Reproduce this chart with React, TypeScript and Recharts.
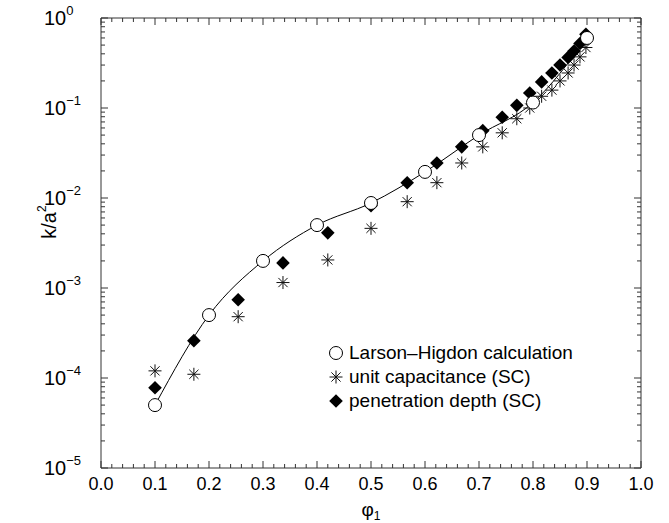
import React from "react";
import { ComposedChart, Line, Scatter, XAxis, YAxis, Legend } from "recharts";

// Larson-Higdon calculation (open circles joined by a line)
const lhPhi = [0.1, 0.2, 0.3, 0.4, 0.5, 0.6, 0.7, 0.8, 0.9];
const lhK = [5e-5, 5e-4, 2e-3, 5e-3, 8.8e-3, 1.95e-2, 5e-2, 0.115, 0.6];

// self-consistent (SC) results share the same phi values
const scPhi = [
  0.1, 0.172, 0.254, 0.337, 0.42, 0.5, 0.567, 0.622, 0.668, 0.707,
  0.743, 0.77, 0.794, 0.816, 0.835, 0.85, 0.865, 0.876, 0.887, 0.898,
];
const capK = [
  1.2e-4, 1.1e-4, 4.8e-4, 1.15e-3, 2.05e-3, 4.6e-3, 9.1e-3, 1.48e-2, 2.45e-2, 3.7e-2,
  5.3e-2, 7.6e-2, 0.1, 0.135, 0.158, 0.2, 0.245, 0.3, 0.37, 0.47,
];
const depthK = [
  7.8e-5, 2.6e-4, 7.4e-4, 1.9e-3, 4.1e-3, 8.2e-3, 1.48e-2, 2.45e-2, 3.7e-2, 5.6e-2,
  7.9e-2, 0.107, 0.147, 0.195, 0.245, 0.3, 0.365, 0.43, 0.52, 0.66,
];

const xMajorTicks = [0, 0.1, 0.2, 0.3, 0.4, 0.5, 0.6, 0.7, 0.8, 0.9, 1.0];
const xTickLabels = ["0.0", "0.1", "0.2", "0.3", "0.4", "0.5", "0.6", "0.7", "0.8", "0.9", "1.0"];
const yMajorTicks = [1e-5, 1e-4, 1e-3, 1e-2, 1e-1, 1];
const yTickExponents = ["\u22125", "\u22124", "\u22123", "\u22122", "\u22121", "0"];

const xMinorTicks = xMajorTicks.slice(0, -1).flatMap((t) => [1, 2, 3, 4].map((k) => +(t + k * 0.02).toFixed(2)));
const yMinorTicks = yMajorTicks.slice(0, -1).flatMap((d) => [2, 3, 4, 5, 6, 7, 8, 9].map((m) => d * m));
const xTicks = [...xMajorTicks, ...xMinorTicks].sort((a, b) => a - b);
const yTicks = [...yMajorTicks, ...yMinorTicks].sort((a, b) => a - b);

const lhData = lhPhi.map((x, i) => ({ x, y: lhK[i] }));
const capData = scPhi.map((x, i) => ({ x, y: capK[i] }));
const depthData = scPhi.map((x, i) => ({ x, y: depthK[i] }));

const FONT = "'Liberation Sans', Arial, Helvetica, sans-serif";
const AXIS = "#333";
const MAJOR = 7;
const MINOR = 4;

const xMajorIndex = (v: number) => xMajorTicks.findIndex((t) => Math.abs(t - v) < 1e-6);
const yMajorIndex = (v: number) => yMajorTicks.findIndex((t) => Math.abs(Math.log10(t) - Math.log10(v)) < 1e-6);

const BottomTick = ({ x, y, payload }: any) => {
  const i = xMajorIndex(payload.value);
  return (
    <g>
      <line x1={x} x2={x} y1={y} y2={y - (i >= 0 ? MAJOR : MINOR)} stroke={AXIS} />
      {i >= 0 && (
        <text x={x} y={y + 22} textAnchor="middle" fontSize={18} fontFamily={FONT} fill="#000">
          {xTickLabels[i]}
        </text>
      )}
    </g>
  );
};

const TopTick = ({ x, y, payload }: any) => {
  const i = xMajorIndex(payload.value);
  return <line x1={x} x2={x} y1={y} y2={y + (i >= 0 ? MAJOR : MINOR)} stroke={AXIS} />;
};

const LeftTick = ({ x, y, payload }: any) => {
  const i = yMajorIndex(payload.value);
  return (
    <g>
      <line x1={x} x2={x + (i >= 0 ? MAJOR : MINOR)} y1={y} y2={y} stroke={AXIS} />
      {i >= 0 && (
        <text x={x - 57} y={y + 7} textAnchor="start" fontFamily={FONT} fill="#000">
          <tspan fontSize={20}>10</tspan>
          <tspan fontSize={13} dy={-10}>{yTickExponents[i]}</tspan>
        </text>
      )}
    </g>
  );
};

const RightTick = ({ x, y, payload }: any) => {
  const i = yMajorIndex(payload.value);
  return <line x1={x} x2={x - (i >= 0 ? MAJOR : MINOR)} y1={y} y2={y} stroke={AXIS} />;
};

const XLabel = ({ viewBox }: any) => (
  <text x={viewBox.x + viewBox.width / 2} y={viewBox.y + 48} textAnchor="middle" fontFamily={FONT} fill="#000">
    <tspan fontSize={19}>φ</tspan>
    <tspan fontSize={12} dy={4}>1</tspan>
  </text>
);

const YLabel = () => (
  <text x={56} y={222} transform="rotate(-90, 56, 222)" textAnchor="middle" fontFamily={FONT} fill="#000">
    <tspan fontSize={20}>k/a</tspan>
    <tspan fontSize={12} dy={-10}>2</tspan>
  </text>
);

const OpenCircle = ({ cx, cy }: any) =>
  cx == null ? null : <circle cx={cx} cy={cy} r={6.5} fill="#fff" stroke="#000" strokeWidth={1} />;

const Star = ({ cx, cy }: any) => {
  const s = 6.5;
  const d = 4.6;
  return (
    <g stroke="#111" strokeWidth={1}>
      <line x1={cx - s} x2={cx + s} y1={cy} y2={cy} />
      <line x1={cx} x2={cx} y1={cy - s} y2={cy + s} />
      <line x1={cx - d} x2={cx + d} y1={cy - d} y2={cy + d} />
      <line x1={cx - d} x2={cx + d} y1={cy + d} y2={cy - d} />
    </g>
  );
};

const Diamond = ({ cx, cy }: any) => {
  const s = 6.8;
  return <polygon points={`${cx},${cy - s} ${cx + s},${cy} ${cx},${cy + s} ${cx - s},${cy}`} fill="#000" />;
};

const legendRows = [
  { label: "Larson\u2013Higdon calculation", icon: <OpenCircle cx={8} cy={12} /> },
  { label: "unit capacitance (SC)", icon: <Star cx={8} cy={12} /> },
  { label: "penetration depth (SC)", icon: <Diamond cx={8} cy={12} /> },
];

const LegendBox = () => (
  <div style={{ fontFamily: FONT, fontSize: 19, color: "#000" }}>
    {legendRows.map((r) => (
      <div key={r.label} style={{ display: "flex", alignItems: "center", height: 24 }}>
        <svg width={16} height={24} style={{ marginRight: 5 }}>
          {r.icon}
        </svg>
        <span>{r.label}</span>
      </div>
    ))}
  </div>
);

export default function App() {
  return (
    <div style={{ position: "absolute", left: 0, top: 0, background: "#fff" }}>
      <ComposedChart width={669} height={523} margin={{ top: 0, right: 0, bottom: 0, left: 0 }}>
        <XAxis
          type="number"
          dataKey="x"
          domain={[0, 1]}
          allowDataOverflow
          ticks={xTicks}
          interval={0}
          tickLine={false}
          tickSize={0}
          tickMargin={0}
          height={55}
          axisLine={{ stroke: AXIS }}
          tick={<BottomTick />}
          label={<XLabel />}
        />
        <XAxis
          xAxisId="top"
          orientation="top"
          type="number"
          dataKey="x"
          domain={[0, 1]}
          allowDataOverflow
          ticks={xTicks}
          interval={0}
          tickLine={false}
          tickSize={0}
          tickMargin={0}
          height={18}
          axisLine={{ stroke: AXIS }}
          tick={<TopTick />}
        />
        <YAxis
          type="number"
          dataKey="y"
          scale="log"
          domain={[1e-5, 1]}
          allowDataOverflow
          ticks={yTicks}
          interval={0}
          tickLine={false}
          tickSize={0}
          tickMargin={0}
          width={101}
          axisLine={{ stroke: AXIS }}
          tick={<LeftTick />}
          label={<YLabel />}
        />
        <YAxis
          yAxisId="right"
          orientation="right"
          type="number"
          dataKey="y"
          scale="log"
          domain={[1e-5, 1]}
          allowDataOverflow
          ticks={yTicks}
          interval={0}
          tickLine={false}
          tickSize={0}
          tickMargin={0}
          width={28}
          axisLine={{ stroke: AXIS }}
          tick={<RightTick />}
        />
        <Line
          data={lhData}
          dataKey="y"
          type="monotone"
          stroke="#000"
          strokeWidth={1}
          dot={<OpenCircle />}
          activeDot={false}
          isAnimationActive={false}
        />
        <Scatter data={capData} dataKey="y" shape={<Star />} isAnimationActive={false} />
        <Scatter data={depthData} dataKey="y" shape={<Diamond />} isAnimationActive={false} />
        <Legend
          layout="vertical"
          align="center"
          verticalAlign="middle"
          content={<LegendBox />}
          wrapperStyle={{ left: 328, top: 341, width: 320 }}
        />
      </ComposedChart>
    </div>
  );
}
